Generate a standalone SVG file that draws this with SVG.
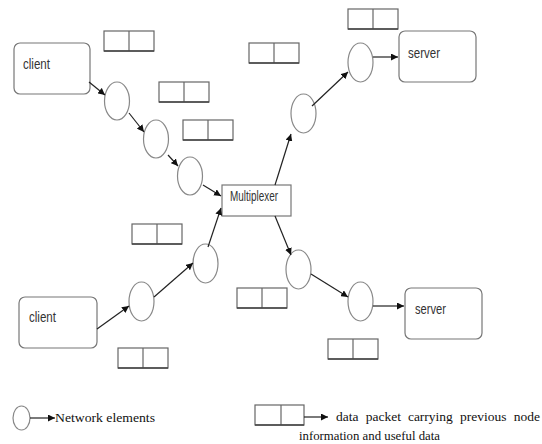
<svg xmlns="http://www.w3.org/2000/svg" width="542" height="444" viewBox="0 0 542 444">
<defs>
<marker id="ah" viewBox="0 0 10 10" refX="10" refY="5" markerWidth="7" markerHeight="7" markerUnits="userSpaceOnUse" orient="auto">
<path d="M0,0 L10,5 L0,10 z" fill="#111"/>
</marker>
<g id="pkt">
<rect x="0" y="0" width="50" height="20" fill="#fff" stroke="#666" stroke-width="1.2"/>
<line x1="25" y1="0" x2="25" y2="20" stroke="#666" stroke-width="1.2"/>
<line x1="0" y1="20" x2="50" y2="20" stroke="#444" stroke-width="1.6"/>
</g>
</defs>
<style>
.box{fill:#fff;stroke:#777;stroke-width:1.2}
.el{fill:#fff;stroke:#888;stroke-width:1.2}
.lbl{font-family:"Liberation Sans",Arial,sans-serif;font-size:14px;fill:#333}
.leg{font-family:"Liberation Serif","Times New Roman",serif;font-size:13.5px;fill:#111}
.conn line{stroke:#222;stroke-width:1.2;marker-end:url(#ah)}
</style>
<rect width="542" height="444" fill="#fff"/>

<g id="client1"><rect class="box" x="14" y="43" width="76" height="51" rx="6"/><text class="lbl" x="23" y="69" textLength="27" lengthAdjust="spacingAndGlyphs">client</text></g>
<g id="client2"><rect class="box" x="19" y="297" width="78" height="51" rx="6"/><text class="lbl" x="29" y="322" textLength="27" lengthAdjust="spacingAndGlyphs">client</text></g>
<g id="server1"><rect class="box" x="399" y="31" width="77" height="51" rx="6"/><text class="lbl" x="408" y="58" textLength="32" lengthAdjust="spacingAndGlyphs">server</text></g>
<g id="server2"><rect class="box" x="405" y="288" width="77" height="51" rx="6"/><text class="lbl" x="415" y="314" textLength="31" lengthAdjust="spacingAndGlyphs">server</text></g>
<g id="mux"><rect x="222" y="185" width="69" height="31" fill="#fff" stroke="#777" stroke-width="1.2"/><text class="lbl" x="230" y="201" font-size="12px" textLength="48" lengthAdjust="spacingAndGlyphs">Multiplexer</text></g>

<g id="n1"><ellipse class="el" cx="117" cy="101" rx="12.5" ry="19"/></g>
<g id="n2"><ellipse class="el" cx="156" cy="139" rx="12.5" ry="19"/></g>
<g id="n3"><ellipse class="el" cx="190" cy="176" rx="12.5" ry="19"/></g>
<g id="n4"><ellipse class="el" cx="141.5" cy="301.5" rx="12.5" ry="19.5"/></g>
<g id="n5"><ellipse class="el" cx="205.5" cy="263.5" rx="12.5" ry="19.5"/></g>
<g id="n6"><ellipse class="el" cx="303.5" cy="113.5" rx="12.5" ry="19.5"/></g>
<g id="n7"><ellipse class="el" cx="360.5" cy="62.5" rx="12.5" ry="19.5"/></g>
<g id="n8"><ellipse class="el" cx="298.5" cy="269.5" rx="12.5" ry="19.5"/></g>
<g id="n9"><ellipse class="el" cx="360.5" cy="301.5" rx="12.5" ry="19.5"/></g>

<g id="packets">
<use href="#pkt" x="104" y="31"/>
<use href="#pkt" x="159" y="82"/>
<use href="#pkt" x="183" y="120"/>
<use href="#pkt" x="249" y="43"/>
<use href="#pkt" x="348" y="9"/>
<use href="#pkt" x="132" y="224"/>
<use href="#pkt" x="237" y="288"/>
<use href="#pkt" x="118" y="348"/>
<use href="#pkt" x="328" y="339"/>
</g>

<g class="conn" id="connectors">
<line x1="89" y1="82" x2="105" y2="95"/>
<line x1="129" y1="113" x2="144" y2="132"/>
<line x1="168" y1="155" x2="178" y2="166"/>
<line x1="203" y1="185" x2="221" y2="196"/>
<line x1="97" y1="329" x2="129" y2="306"/>
<line x1="154" y1="297" x2="193" y2="263"/>
<line x1="208" y1="247" x2="221" y2="208"/>
<line x1="275" y1="185" x2="291" y2="134"/>
<line x1="312" y1="106" x2="348" y2="72"/>
<line x1="373" y1="57" x2="398" y2="57"/>
<line x1="275" y1="216" x2="291" y2="255"/>
<line x1="311" y1="274" x2="348" y2="297"/>
<line x1="373" y1="306" x2="404" y2="306"/>
</g>

<g id="legend">
<ellipse class="el" cx="21.5" cy="418" rx="8.5" ry="12"/>
<line x1="30" y1="418" x2="55" y2="418" stroke="#222" stroke-width="1.2" marker-end="url(#ah)"/>
<text class="leg" x="55" y="422" textLength="100" lengthAdjust="spacingAndGlyphs">Network elements</text>
<rect x="255" y="405" width="49" height="20" fill="#fff" stroke="#666" stroke-width="1.2"/>
<line x1="281" y1="405" x2="281" y2="425" stroke="#666" stroke-width="1.2"/>
<line x1="255" y1="425" x2="304" y2="425" stroke="#444" stroke-width="1.6"/>
<line x1="304" y1="417" x2="328" y2="417" stroke="#222" stroke-width="1.2" marker-end="url(#ah)"/>
<text class="leg" y="421"><tspan x="336">data</tspan><tspan x="365.7">packet</tspan><tspan x="407.9">carrying</tspan><tspan x="460.1">previous</tspan><tspan x="513.8">node</tspan></text>
<text class="leg" x="299" y="440" textLength="141" lengthAdjust="spacingAndGlyphs">information and useful data</text>
</g>
</svg>
